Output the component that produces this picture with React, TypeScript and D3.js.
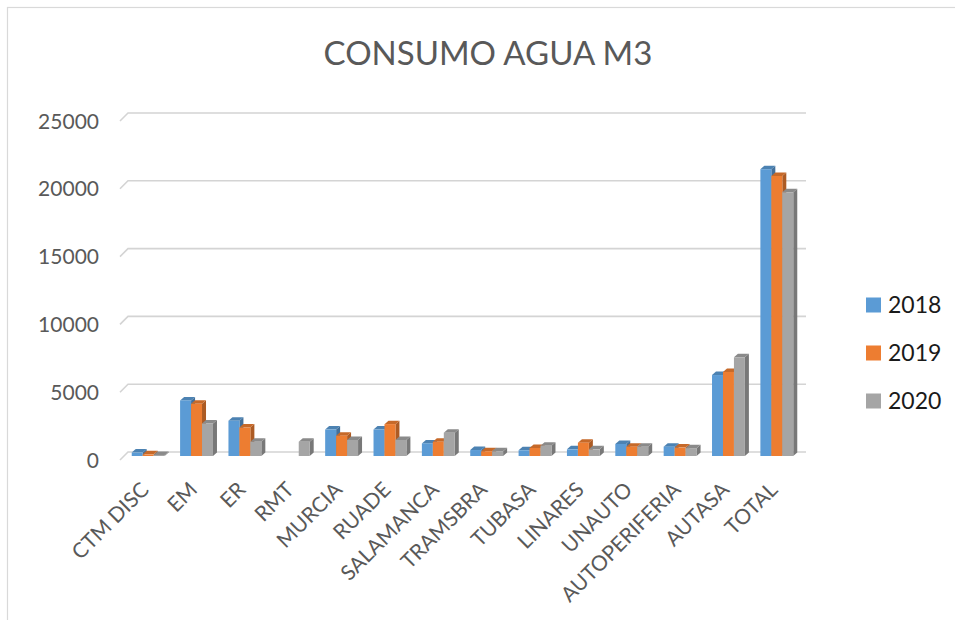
import * as d3 from 'd3';

const categories = ['CTM DISC', 'EM', 'ER', 'RMT', 'MURCIA', 'RUADE', 'SALAMANCA', 'TRAMSBRA', 'TUBASA', 'LINARES', 'UNAUTO', 'AUTOPERIFERIA', 'AUTASA', 'TOTAL'];
const years = ['2018', '2019', '2020'];
const v2018 = [250, 4100, 2600, 0, 1950, 1950, 930, 440, 420, 490, 885, 690, 5970, 21150];
const v2019 = [120, 3850, 2100, 0, 1500, 2350, 1050, 350, 590, 980, 690, 620, 6200, 20650];
const v2020 = [80, 2400, 1050, 1050, 1180, 1180, 1720, 350, 760, 490, 690, 580, 7280, 19450];
const yTicks = [0, 5000, 10000, 15000, 20000, 25000];
const colors = ['#5b9bd5', '#ed7d31', '#a5a5a5'];

const series = [v2018, v2019, v2020];
const FONT = 'Lato, "Open Sans", sans-serif';

export default function App() {
  const W = 955, H = 620;
  const depth = 8; // floor depth (wall offset)
  const half = depth / 2;
  const x = d3.scaleBand<string>().domain(categories).range([120, 797]).paddingInner(0.32).paddingOuter(0.16);
  const y = d3.scaleLinear().domain([0, 25000]).range([460, 121]);
  const xs = d3.scaleBand<string>().domain(years).range([0, x.bandwidth()]);
  const bw = xs.bandwidth();

  const bars: JSX.Element[] = [];
  categories.forEach((c, ci) => {
    years.forEach((yr, si) => {
      const v = series[si][ci];
      if (!v) return;
      const x0 = (x(c) ?? 0) + (xs(yr) ?? 0) + half;
      const x1 = x0 + bw;
      const yb = y(0) - half;
      const yt = y(v) - half;
      const col = d3.color(colors[si])!;
      const side = col.darker(0.9).formatHex();
      const top = col.darker(0.5).formatHex();
      const d = 4, e = 3.5;
      bars.push(
        <g key={`${ci}-${si}`}>
          <path d={`M${x1},${yt}L${x1 + d},${yt - e}L${x1 + d},${yb - e}L${x1},${yb}Z`} fill={side} />
          <path d={`M${x0},${yt}L${x0 + d},${yt - e}L${x1 + d},${yt - e}L${x1},${yt}Z`} fill={top} />
          <rect x={x0} y={yt} width={bw} height={yb - yt} fill={colors[si]} />
        </g>
      );
    });
  });

  return (
    <svg width={W} height={H} style={{ position: 'absolute', left: 0, top: 0, background: '#fff' }}>
      <rect x={7.5} y={7.5} width={1200} height={1200} fill="#fff" stroke="#d9d9d9" strokeWidth={1.2} />
      <text x={488} y={65} textAnchor="middle" fontFamily={FONT} fontSize={33} fill="#595959">CONSUMO AGUA M3</text>
      {yTicks.map(t => (
        <g key={t}>
          <path d={`M120,${y(t)}L${120 + depth},${y(t) - depth}L806,${y(t) - depth}`} fill="none" stroke="#d4d4d4" strokeWidth={1.6} />
          <text x={99} y={y(t)} dy="0.36em" textAnchor="end" fontFamily={FONT} fontSize={21} fill="#595959">{t}</text>
        </g>
      ))}
      {bars}
      {categories.map(c => {
        const cx = (x(c) ?? 0) + x.bandwidth() / 2 + 6;
        return (
          <text key={c} transform={`translate(${cx},${491}) rotate(-45)`} textAnchor="end" fontFamily={FONT} fontSize={21} fill="#595959">{c}</text>
        );
      })}
      {years.map((yr, i) => (
        <g key={yr} transform={`translate(866,${305 + i * 48})`}>
          <rect x={0} y={-7.5} width={15} height={15} fill={colors[i]} />
          <text x={22} y={0} dy="0.36em" fontFamily={FONT} fontSize={23} fill="#1a1a1a">{yr}</text>
        </g>
      ))}
    </svg>
  );
}
